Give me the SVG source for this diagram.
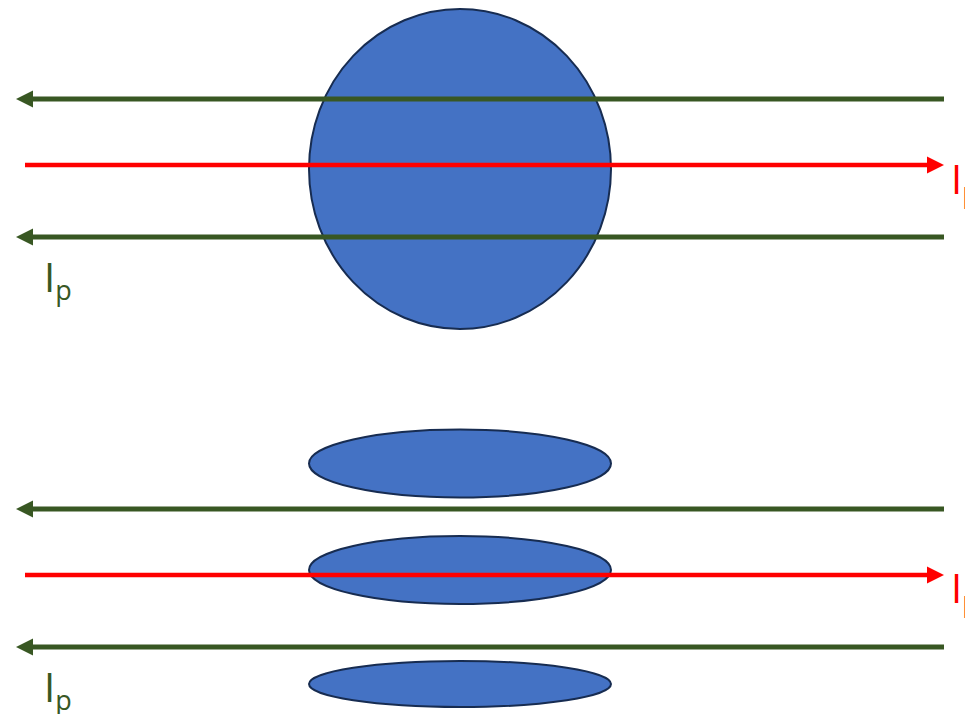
<svg xmlns="http://www.w3.org/2000/svg" width="965" height="714" viewBox="0 0 965 714">
<style>
.blob{fill:#4472C4;stroke:#172C51;stroke-width:2}
.green{stroke:#385723;stroke-width:5;fill:none}
.red{stroke:#FF0000;stroke-width:4.5;fill:none}
text{font-family:'Open Sans','Liberation Sans',sans-serif;font-size:40px}
tspan{font-size:27px}
</style>
<defs>
<marker id="ahG" viewBox="0 -9 17 18" markerWidth="17" markerHeight="18" refX="0" refY="0" orient="auto" markerUnits="userSpaceOnUse"><path d="M0,-8.5 L17,0 L0,8.5 z" fill="#385723"/></marker>
<marker id="ahR" viewBox="0 -9 17 18" markerWidth="17" markerHeight="18" refX="0" refY="0" orient="auto" markerUnits="userSpaceOnUse"><path d="M0,-8.5 L17,0 L0,8.5 z" fill="#FF0000"/></marker>
</defs>
<rect width="965" height="714" fill="#FFFFFF"/>
<g id="circle"><ellipse class="blob" cx="460" cy="169" rx="151" ry="160"/></g>
<g id="ellipse-top"><ellipse class="blob" cx="460" cy="463.5" rx="151" ry="34"/></g>
<g id="ellipse-mid"><ellipse class="blob" cx="460" cy="570" rx="151" ry="34"/></g>
<g id="ellipse-bot"><ellipse class="blob" cx="460" cy="684" rx="151" ry="23"/></g>
<g id="connectors">
<line class="green" x1="944" y1="99" x2="33" y2="99" marker-end="url(#ahG)"/>
<line class="red" x1="25" y1="165" x2="927" y2="165" marker-end="url(#ahR)"/>
<line class="green" x1="944" y1="237" x2="33" y2="237" marker-end="url(#ahG)"/>
<line class="green" x1="944" y1="509" x2="33" y2="509" marker-end="url(#ahG)"/>
<line class="red" x1="25" y1="575" x2="927" y2="575" marker-end="url(#ahR)"/>
<line class="green" x1="944" y1="647" x2="33" y2="647" marker-end="url(#ahG)"/>
</g>
<g id="labels">
<text font-family="Open Sans, Liberation Sans, sans-serif" x="44" y="292" fill="#385723">I<tspan dy="8">p</tspan></text>
<text font-family="Open Sans, Liberation Sans, sans-serif" x="951" y="194" fill="#FF0000">I<tspan dy="8">p</tspan></text>
<text font-family="Open Sans, Liberation Sans, sans-serif" x="44" y="702" fill="#385723">I<tspan dy="8">p</tspan></text>
<text font-family="Open Sans, Liberation Sans, sans-serif" x="951" y="603" fill="#FF0000">I<tspan dy="8">p</tspan></text>
</g>
</svg>
